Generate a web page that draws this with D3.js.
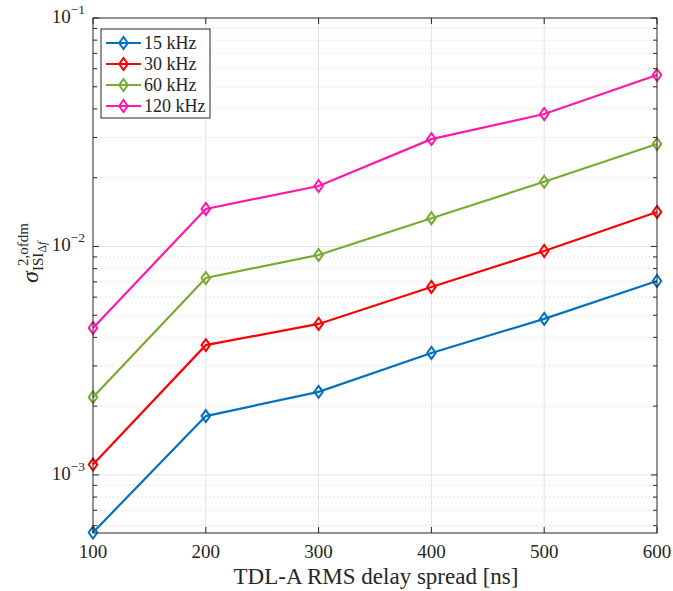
<!DOCTYPE html>
<html><head><meta charset="utf-8">
<script src="https://cdn.jsdelivr.net/npm/d3@7"></script>
<style>body{margin:0;background:#fff}svg{display:block}text{font-family:"Liberation Serif","DejaVu Serif",serif;fill:#262626}</style>
</head><body><svg id="c" width="673" height="591"></svg>
<script>
const delays = [100, 200, 300, 400, 500, 600];
const seriesNames = ["15 kHz", "30 kHz", "60 kHz", "120 kHz"];
const s15 = [0.00056, 0.00181, 0.00231, 0.00342, 0.00482, 0.00706];
const s30 = [0.00111, 0.00370, 0.00458, 0.00665, 0.00956, 0.01416];
const s60 = [0.00219, 0.00728, 0.00918, 0.0133, 0.0192, 0.0281];
const s120 = [0.00440, 0.0146, 0.0184, 0.0295, 0.0380, 0.0563];
const colors = ["#0072BD", "#FF0000", "#77AC30", "#FF19A6"];
const xTicks = [100, 200, 300, 400, 500, 600];
const yMajor = [1e-3, 1e-2, 1e-1];
const yExp = [-3, -2, -1];

const all = [s15, s30, s60, s120];
const svg = d3.select("#c");
const L = 93, R = 657, T = 18, B = 533;
const x = d3.scaleLinear().domain([100, 600]).range([L, R]);
const y = d3.scaleLog().domain([0.000557, 0.1]).range([B, T]);

const minors = [];
for (let e = -4; e <= -2; e++) for (let m = 2; m <= 9; m++) {
  const v = m * Math.pow(10, e);
  if (v >= 0.000557 && v <= 0.1) minors.push(v);
}
// grid
const g = svg.append("g");
g.selectAll(".mg").data(minors).join("line")
  .attr("x1", L).attr("x2", R).attr("y1", d => y(d)).attr("y2", d => y(d))
  .attr("stroke", "#cfcfcf").attr("stroke-width", 1).attr("stroke-dasharray", "1,3");
g.selectAll(".vg").data(xTicks.slice(1, -1)).join("line")
  .attr("x1", d => x(d)).attr("x2", d => x(d)).attr("y1", T).attr("y2", B)
  .attr("stroke", "#e3e3e3").attr("stroke-width", 1);
g.selectAll(".hg").data(yMajor.slice(0, -1)).join("line")
  .attr("x1", L).attr("x2", R).attr("y1", d => y(d)).attr("y2", d => y(d))
  .attr("stroke", "#e3e3e3").attr("stroke-width", 1);

// lines
const line = d3.line().x((d, i) => x(delays[i])).y(d => y(d));
all.forEach((s, k) => {
  svg.append("path").datum(s).attr("d", line).attr("fill", "none")
    .attr("stroke", colors[k]).attr("stroke-width", 2.2);
  svg.append("g").selectAll("path").data(s).join("path")
    .attr("d", "M0,-6L4.3,0L0,6L-4.3,0Z")
    .attr("transform", (d, i) => `translate(${x(delays[i])},${y(d)})`)
    .attr("fill", "none").attr("stroke", colors[k]).attr("stroke-width", 2);
});

// axes box
const ax = svg.append("g");
ax.append("rect").attr("x", L).attr("y", T).attr("width", R - L).attr("height", B - T)
  .attr("fill", "none").attr("stroke", "#262626").attr("stroke-width", 1);
// x ticks
xTicks.forEach(t => {
  ax.append("line").attr("x1", x(t)).attr("x2", x(t)).attr("y1", B).attr("y2", B - 6).attr("stroke", "#262626");
  ax.append("line").attr("x1", x(t)).attr("x2", x(t)).attr("y1", T).attr("y2", T + 6).attr("stroke", "#262626");
  ax.append("text").attr("x", x(t)).attr("y", B + 25).attr("text-anchor", "middle")
    .attr("font-size", 19).text(t);
});
// y ticks
yMajor.forEach((t, i) => {
  ax.append("line").attr("x1", L).attr("x2", L + 6).attr("y1", y(t)).attr("y2", y(t)).attr("stroke", "#262626");
  ax.append("line").attr("x1", R).attr("x2", R - 6).attr("y1", y(t)).attr("y2", y(t)).attr("stroke", "#262626");
  const tx = ax.append("text").attr("x", L - 8).attr("y", y(t) + 5).attr("text-anchor", "end").attr("font-size", 19);
  tx.append("tspan").text("10");
  tx.append("tspan").attr("dy", -9).attr("font-size", 13.5).text("\u2212" + (-yExp[i]));
});
minors.forEach(t => {
  ax.append("line").attr("x1", L).attr("x2", L + 4).attr("y1", y(t)).attr("y2", y(t)).attr("stroke", "#262626");
  ax.append("line").attr("x1", R).attr("x2", R - 4).attr("y1", y(t)).attr("y2", y(t)).attr("stroke", "#262626");
});
// x label
svg.append("text").attr("x", 376).attr("y", 584).attr("text-anchor", "middle")
  .attr("font-size", 23).text("TDL-A RMS delay spread [ns]");
// y label
const yl = svg.append("g").attr("transform", "translate(38,283) rotate(-90)");
yl.append("text").attr("x", 0).attr("y", 0).attr("font-size", 24).attr("font-style", "italic").text("\u03C3");
yl.append("text").attr("x", 17).attr("y", -10).attr("font-size", 15).text("2,ofdm");
const sub = yl.append("text").attr("x", 12).attr("y", 5).attr("font-size", 15);
sub.append("tspan").text("ISI");
sub.append("tspan").attr("dy", 3).attr("font-size", 12).text("\u0394");
sub.append("tspan").attr("font-size", 12).attr("font-style", "italic").text("f");

// legend
const lg = svg.append("g");
lg.append("rect").attr("x", 101).attr("y", 29).attr("width", 109).attr("height", 89)
  .attr("fill", "#fff").attr("stroke", "#262626").attr("stroke-width", 1);
seriesNames.forEach((n, k) => {
  const yy = 43 + k * 21;
  lg.append("line").attr("x1", 106).attr("x2", 141).attr("y1", yy).attr("y2", yy)
    .attr("stroke", colors[k]).attr("stroke-width", 2.2);
  lg.append("path").attr("d", "M0,-6L4.3,0L0,6L-4.3,0Z").attr("transform", `translate(123.5,${yy})`)
    .attr("fill", "none").attr("stroke", colors[k]).attr("stroke-width", 2);
  lg.append("text").attr("x", 144).attr("y", yy + 6).attr("font-size", 18).text(n);
});
</script></body></html>
